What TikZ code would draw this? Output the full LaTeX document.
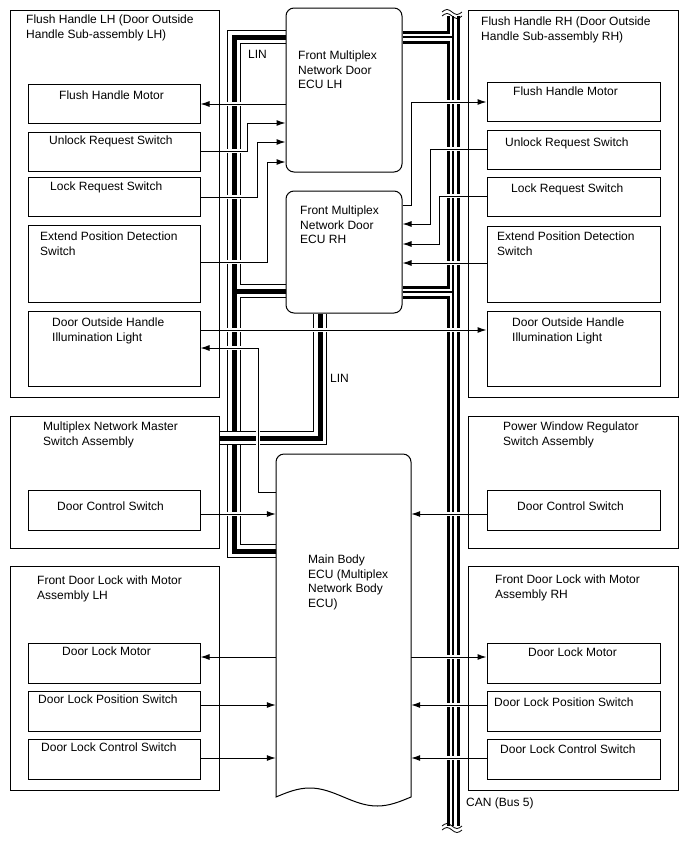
\documentclass[tikz,border=0pt]{standalone}
\usepackage{fontspec}
\setmainfont{Liberation Sans}
\usetikzlibrary{arrows.meta, backgrounds}
\tikzstyle{group} = [draw, line width=1pt, inner sep=0pt]
\tikzstyle{part} = [draw, fill=white, line width=1pt, inner sep=0pt]
\tikzstyle{ecu} = [part, rounded corners=8pt]
\tikzstyle{txt} = [anchor=north west, inner sep=0pt, align=left, font=\fontsize{12pt}{14.5pt}\selectfont]
\tikzstyle{sig} = [line width=1pt, -{Latex[length=9pt, width=6pt]}, preaction={draw=white, line width=3.5pt}]

\begin{document}
\begin{tikzpicture}[x=1pt, y=-1pt]
\useasboundingbox (0,0) rectangle (688,852);

\node[group, minimum width=209pt, minimum height=387pt] (handleL) at (114.5,203.5) {};
\node[group, minimum width=209pt, minimum height=132pt] (masterL) at (114.5,482) {};
\node[group, minimum width=209pt, minimum height=224pt] (doorLockL) at (114.5,678) {};
\node[group, minimum width=210pt, minimum height=387pt] (handleR) at (573,203.5) {};
\node[group, minimum width=210pt, minimum height=132pt] (windowR) at (573,482) {};
\node[group, minimum width=210pt, minimum height=224pt] (doorLockR) at (573,678) {};

\node[part, minimum width=172pt, minimum height=39pt] (motorL) at (114,103.5) {};
\node[part, minimum width=172pt, minimum height=39pt] (unlockL) at (114,151.5) {};
\node[part, minimum width=172pt, minimum height=39pt] (lockL) at (114,196.5) {};
\node[part, minimum width=172pt, minimum height=77pt] (extendL) at (114,263.5) {};
\node[part, minimum width=172pt, minimum height=75pt] (lightL) at (114,348.5) {};
\node[part, minimum width=172pt, minimum height=40pt] (switchL) at (114,510) {};
\node[part, minimum width=172pt, minimum height=40pt] (lockMotorL) at (114,663) {};
\node[part, minimum width=172pt, minimum height=40pt] (positionL) at (114,711) {};
\node[part, minimum width=172pt, minimum height=40pt] (controlL) at (114,759) {};

\node[part, minimum width=173pt, minimum height=39pt] (motorR) at (573.5,101.5) {};
\node[part, minimum width=173pt, minimum height=39pt] (unlockR) at (573.5,149.5) {};
\node[part, minimum width=173pt, minimum height=39pt] (lockR) at (573.5,196.5) {};
\node[part, minimum width=173pt, minimum height=76pt] (extendR) at (573.5,264) {};
\node[part, minimum width=173pt, minimum height=75pt] (lightR) at (573.5,348.5) {};
\node[part, minimum width=173pt, minimum height=40pt] (switchR) at (573.5,510) {};
\node[part, minimum width=173pt, minimum height=40pt] (lockMotorR) at (573.5,663) {};
\node[part, minimum width=173pt, minimum height=40pt] (positionR) at (573.5,711) {};
\node[part, minimum width=173pt, minimum height=40pt] (controlR) at (573.5,759) {};

\node[ecu, minimum width=116pt, minimum height=164pt] (ecuLH) at (344,90) {};
\node[ecu, minimum width=116pt, minimum height=122pt] (ecuRH) at (344,252) {};
\node[minimum width=135pt, minimum height=343pt, inner sep=0pt] (main) at (343.5,625.5) {};
\draw[part] (276,797) -- (276,462) .. controls (276,457.6) and (279.6,454) .. (284,454) -- (403,454)
  .. controls (407.4,454) and (411,457.6) .. (411,462) -- (411,797)
  sin (377.25,806) cos (343.5,797) sin (309.75,788) cos (276,797) -- cycle;

\begin{scope}[on background layer]
\fill[white] (0,0) rectangle (688,852);
\foreach \w/\c in {14/black, 12/white, 5/black}
  \draw[line width=\w pt, draw=\c] (ecuLH.west |- 0,37) -- (234,37) -- (234,551) -- (main.west |- 0,551)
    (234,291) -- (ecuRH.west |- 0,291);
\foreach \w/\c in {14/black, 12/white, 5/black}
  \draw[line width=\w pt, draw=\c] (ecuRH.south -| 320,0) -- (320,438) -- (masterL.east |- 0,438);
\foreach \w/\c in {13/black, 7/white, 1.2/black}
  \draw[line width=\w pt, draw=\c] (453,16) -- (453,826)
    (ecuLH.east |- 0,37) -- (453,37) (ecuRH.east |- 0,292) -- (453,292);

\draw[sig] (ecuLH.west |- 0,104) -- (motorL.east |- 0,104);
\draw[sig] (unlockL.east |- 0,151) -| (247,123) -- (ecuLH.west |- 0,123);
\draw[sig] (lockL.east |- 0,197) -| (257,142) -- (ecuLH.west |- 0,142);
\draw[sig] (extendL.east |- 0,262) -| (267,162) -- (ecuLH.west |- 0,162);
\draw[sig] (lightL.east |- 0,330) -- (lightR.west |- 0,330);
\draw[sig] (main.west |- 0,492) -| (258,348) -- (lightL.east |- 0,348);
\draw[sig] (switchL.east |- 0,514) -- (main.west |- 0,514);
\draw[sig] (main.west |- 0,657) -- (lockMotorL.east |- 0,657);
\draw[sig] (positionL.east |- 0,705) -- (main.west |- 0,705);
\draw[sig] (controlL.east |- 0,758) -- (main.west |- 0,758);

\draw[sig] (ecuRH.east |- 0,205) -| (411,102) -- (motorR.west |- 0,102);
\draw[sig] (unlockR.west |- 0,149) -| (430,224) -- (ecuRH.east |- 0,224);
\draw[sig] (lockR.west |- 0,196) -| (439,244) -- (ecuRH.east |- 0,244);
\draw[sig] (extendR.west |- 0,263) -- (ecuRH.east |- 0,263);
\draw[sig] (switchR.west |- 0,514) -- (main.east |- 0,514);
\draw[sig] (main.east |- 0,657) -- (lockMotorR.west |- 0,657);
\draw[sig] (positionR.west |- 0,705) -- (main.east |- 0,705);
\draw[sig] (controlR.west |- 0,758) -- (main.east |- 0,758);
\end{scope}

\draw[line width=0.8pt] (442,12) sin (447,9.5) cos (452,12) sin (457,14.5) cos (462,12);
\draw[line width=0.8pt] (442,16) sin (447,13.5) cos (452,16) sin (457,18.5) cos (462,16);
\draw[line width=0.8pt] (442,826) sin (447,823.5) cos (452,826) sin (457,828.5) cos (462,826);
\draw[line width=0.8pt] (442,830) sin (447,827.5) cos (452,830) sin (457,832.5) cos (462,830);

\node[txt] (handleLtext) at (26,15) {Flush Handle LH (Door Outside\\Handle Sub-assembly LH)};
\node[txt] (motorLtext) at (59,91) {Flush Handle Motor};
\node[txt] (unlockLtext) at (49,136) {Unlock Request Switch};
\node[txt] (lockLtext) at (50,182) {Lock Request Switch};
\node[txt] (extendLtext) at (40,232) {Extend Position Detection\\Switch};
\node[txt] (lightLtext) at (52,318) {Door Outside Handle\\Illumination Light};
\node[txt] (masterLtext) at (43,422) {Multiplex Network Master\\Switch Assembly};
\node[txt] (switchLtext) at (57,502) {Door Control Switch};
\node[txt] (doorLockLtext) at (37,576) {Front Door Lock with Motor\\Assembly LH};
\node[txt] (lockMotorLtext) at (62,647) {Door Lock Motor};
\node[txt] (positionLtext) at (38,695) {Door Lock Position Switch};
\node[txt] (controlLtext) at (41,743) {Door Lock Control Switch};

\node[txt] (handleRtext) at (481,17) {Flush Handle RH (Door Outside\\Handle Sub-assembly RH)};
\node[txt] (motorRtext) at (513,87) {Flush Handle Motor};
\node[txt] (unlockRtext) at (505,138) {Unlock Request Switch};
\node[txt] (lockRtext) at (511,184) {Lock Request Switch};
\node[txt] (extendRtext) at (497,232) {Extend Position Detection\\Switch};
\node[txt] (lightRtext) at (512,318) {Door Outside Handle\\Illumination Light};
\node[txt] (windowRtext) at (503,422) {Power Window Regulator\\Switch Assembly};
\node[txt] (switchRtext) at (517,502) {Door Control Switch};
\node[txt] (doorLockRtext) at (495,575) {Front Door Lock with Motor\\Assembly RH};
\node[txt] (lockMotorRtext) at (528,648) {Door Lock Motor};
\node[txt] (positionRtext) at (494,698) {Door Lock Position Switch};
\node[txt] (controlRtext) at (500,745) {Door Lock Control Switch};

\node[txt] (ecuLHtext) at (298,51) {Front Multiplex\\Network Door\\ECU LH};
\node[txt] (ecuRHtext) at (300,206) {Front Multiplex\\Network Door\\ECU RH};
\node[txt] (maintext) at (308,555) {Main Body\\ECU (Multiplex\\Network Body\\ECU)};
\node[txt] (lin1) at (248,50) {LIN};
\node[txt] (lin2) at (330,374) {LIN};
\node[txt] (can) at (466,798) {CAN (Bus 5)};
\end{tikzpicture}
\end{document}
